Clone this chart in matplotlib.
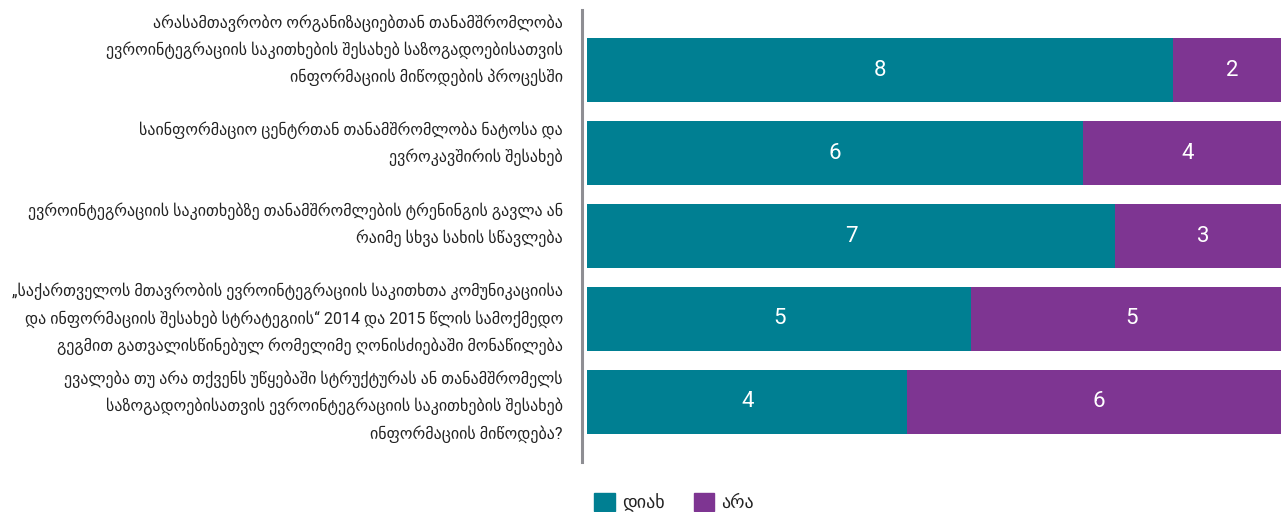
import matplotlib
matplotlib.use("Agg")
import matplotlib.pyplot as plt
from matplotlib.transforms import ScaledTranslation, blended_transform_factory
from matplotlib.patches import Patch

# ---- data ----
categories = [
    "არასამთავრობო ორგანიზაციებთან თანამშრომლობა\nევროინტეგრაციის საკითხების შესახებ საზოგადოებისათვის\nინფორმაციის მიწოდების პროცესში",
    "საინფორმაციო ცენტრთან თანამშრომლობა ნატოსა და\nევროკავშირის შესახებ",
    "ევროინტეგრაციის საკითხებზე თანამშრომლების ტრენინგის გავლა ან\nრაიმე სხვა სახის სწავლება",
    "„საქართველოს მთავრობის ევროინტეგრაციის საკითხთა კომუნიკაციისა\nდა ინფორმაციის შესახებ სტრატეგიის“ 2014 და 2015 წლის სამოქმედო\nგეგმით გათვალისწინებულ რომელიმე ღონისძიებაში მონაწილება",
    "ევალება თუ არა თქვენს უწყებაში სტრუქტურას ან თანამშრომელს\nსაზოგადოებისათვის ევროინტეგრაციის საკითხების შესახებ\nინფორმაციის მიწოდება?",
]
series_names = ["დიახ", "არა"]
yes_labels = [8, 6, 7, 5, 4]
no_labels = [2, 4, 3, 5, 6]
yes_share = [83.3, 70.5, 75.0, 54.6, 45.5]
no_share = [100 - v for v in yes_share]

# ---- style ----
TEAL = "#007F92"
PURPLE = "#7E3592"
TXT = "#222222"
FAM = ["DejaVu Sans"]
NUMFAM = ["Roboto", "DejaVu Sans"]
label_dy_px = [-20, -10, -11, 0, 5]

W, H = 1281, 512
fig = plt.figure(figsize=(W / 100, H / 100), dpi=100)
ax = fig.add_axes([581.7 / W, 50 / H, (1291 - 581.7) / W, 452 / H])

y = list(range(len(categories)))
ax.barh(y, yes_share, height=0.772, color=TEAL, left=0)
ax.barh(y, no_share, height=0.772, color=PURPLE, left=yes_share)

ax.set_xlim(-0.75, 100)
ax.set_ylim(4.73, -0.73)
for s in ["top", "right", "bottom"]:
    ax.spines[s].set_visible(False)
ax.spines["left"].set_color("#8E8E93")
ax.spines["left"].set_linewidth(2.2)
ax.set_xticks([])
ax.set_yticks([])

for i in y:
    ax.text(yes_share[i] / 2, i, str(yes_labels[i]), color="white", ha="center",
            va="center", fontsize=16, family=NUMFAM)
    ax.text(yes_share[i] + no_share[i] / 2, i, str(no_labels[i]), color="white",
            ha="center", va="center", fontsize=16, family=NUMFAM)

trans = blended_transform_factory(fig.transFigure, ax.transData)
for i, cat in enumerate(categories):
    off = ScaledTranslation(0, -label_dy_px[i] / 100, fig.dpi_scale_trans)
    ax.text(563 / W, i, cat, transform=trans + off, ha="right", va="center",
            multialignment="right", fontsize=11.5, family=NUMFAM,
            color=TXT, linespacing=1.7)

handles = [Patch(color=TEAL), Patch(color=PURPLE)]
fig.legend(handles, series_names, loc="lower left", bbox_to_anchor=(594 / W, 0.0),
           ncol=2, frameon=False, prop={"family": FAM, "size": 13},
           handlelength=1.15, handleheight=1.15, handletextpad=0.4,
           columnspacing=1.6, borderpad=0, borderaxespad=0, labelcolor=TXT)

fig.savefig("out.png", dpi=100)
